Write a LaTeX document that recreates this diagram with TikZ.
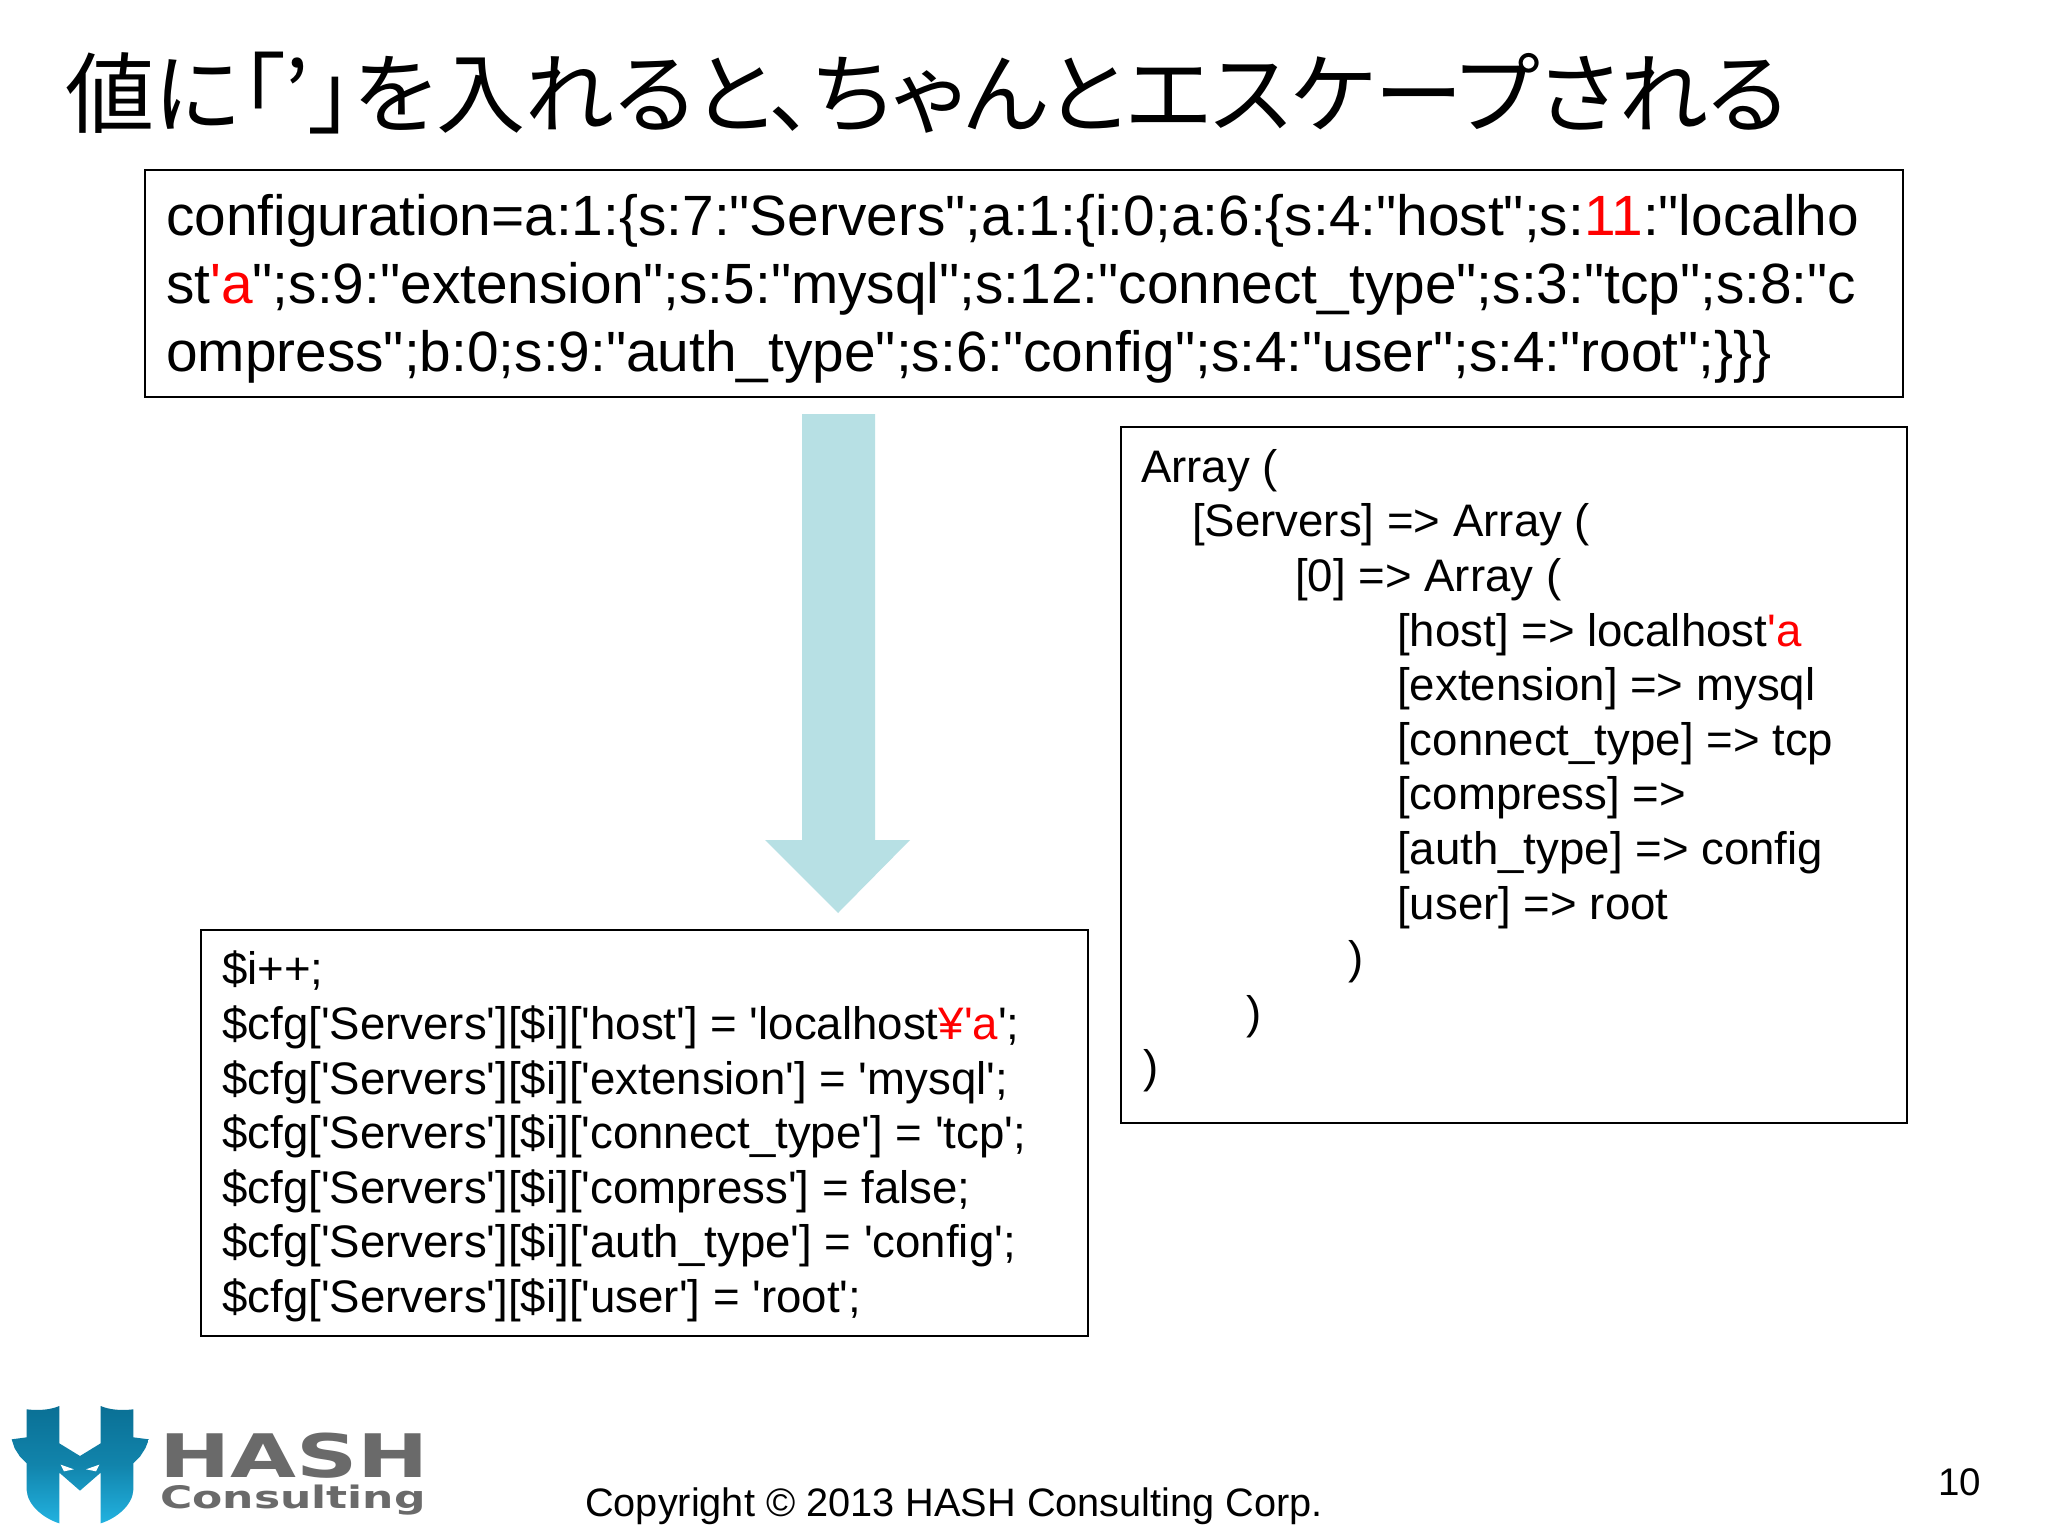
\documentclass[tikz,border=0pt]{standalone}
\usepackage{fontspec}
\newfontfamily\arfont{Liberation Sans}
\newfontfamily\jpfont[RawFeature=+palt]{Noto Sans CJK JP}
\newfontfamily\logofont{DejaVu Sans Bold}
\definecolor{arrowc}{HTML}{B7E0E4}
\definecolor{logog}{HTML}{6A6A6A}
\definecolor{logot}{HTML}{0A7095}
\definecolor{logob}{HTML}{22B2E0}
\newcommand{\rd}[1]{\textcolor{red}{#1}}
\tikzset{
  boxed/.style={draw=black,line width=2pt,fill=white},
  toptext/.style={anchor=north west,inner sep=0pt,align=left,font=\arfont\fontsize{56.8}{68}\selectfont},
  bodytext/.style={anchor=north west,inner sep=0pt,align=left,font=\arfont\fontsize{45.6}{54.6}\selectfont},
}
\begin{document}
\begin{tikzpicture}[x=1pt,y=-1pt]
\useasboundingbox (0,0) rectangle (2048,1536);
\fill[white] (0,0) rectangle (2048,1536);
\node[anchor=base west,inner sep=0pt,font=\jpfont\fontsize{88}{88}\selectfont] (title) at (65,127) {\scalebox{1.012}[1]{値に「’」を入れると、ちゃんとエスケープされる}};
\draw[boxed] (145,170) rectangle (1903,397);
\node[toptext] (topt) at (166,194) {configuration=a:1:\{s:7:"Servers";a:1:\{i:0;a:6:\{s:4:"host";s:\rd{11}:"localho\\
st\rd{'a}";s:9:"extension";s:5:"mysql";s:12:"connect\_type";s:3:"tcp";s:8:"c\\
ompress";b:0;s:9:"auth\_type";s:6:"config";s:4:"user";s:4:"root";\}\}\}};
\fill[arrowc] (802,414) -- (875,414) -- (875,840) -- (910,840) -- (838,913) -- (765,840) -- (802,840) -- cycle;
\draw[boxed] (1121,427) rectangle (1907,1123);
\node[bodytext] (rightt) at (1141,449) {Array (\\
\hspace*{51pt}{[}Servers] => Array (\\
\hspace*{154pt}{[}0] => Array (\\
\hspace*{256pt}{[}host] => localhost\rd{'a}\\
\hspace*{256pt}{[}extension] => mysql\\
\hspace*{256pt}{[}connect\_type] => tcp\\
\hspace*{256pt}{[}compress] =>\\
\hspace*{256pt}{[}auth\_type] => config\\
\hspace*{256pt}{[}user] => root\\
\hspace*{207pt})\\
\hspace*{105pt})\\
\hspace*{2pt})};
\draw[boxed] (201,930) rectangle (1088,1336);
\node[bodytext] (bott) at (222,951) {\$i++;\\
\$cfg{[}'Servers'][\$i]['host'] = 'localhost\rd{¥'a}';\\
\$cfg{[}'Servers'][\$i]['extension'] = 'mysql';\\
\$cfg{[}'Servers'][\$i]['connect\_type'] = 'tcp';\\
\$cfg{[}'Servers'][\$i]['compress'] = false;\\
\$cfg{[}'Servers'][\$i]['auth\_type'] = 'config';\\
\$cfg{[}'Servers'][\$i]['user'] = 'root';};
\node[anchor=base west,inner sep=0pt,font=\arfont\fontsize{39.7}{48}\selectfont] (copy) at (585,1516) {Copyright © 2013 HASH Consulting Corp.};
\node[anchor=base east,inner sep=0pt,font=\arfont\fontsize{38.5}{48}\selectfont] (pagenum) at (1981,1495) {10};
% logo
\begin{scope}[shift={(0,1380)},x=0.3333pt,y=-0.3333pt]
\shade[top color=logot,bottom color=logob,middle color=logot!70!logob]
 (80,88) .. controls (115,92) and (150,90) .. (178,78) -- (178,190) -- (240,228) -- (302,190) -- (302,78)
 .. controls (330,90) and (365,92) .. (400,88) -- (400,172) -- (447,178) -- (436,205) -- (420,230) -- (400,250) -- (400,330)
 .. controls (398,375) and (350,415) .. (302,430) -- (302,278) -- (240,332) -- (178,278) -- (178,430)
 .. controls (130,415) and (82,375) .. (80,330) -- (80,250) -- (60,230) -- (44,205) -- (35,178) -- (80,172) -- cycle;
\fill[white] (182,254) -- (222,268) -- (192,274) -- cycle;
\fill[white] (298,254) -- (258,268) -- (288,274) -- cycle;
\end{scope}
\node[anchor=base west,inner sep=0pt,text=logog,font=\logofont\fontsize{60}{60}\selectfont] (hash) at (159,1477) {\scalebox{1.42}[1]{HASH}};
\node[anchor=base west,inner sep=0pt,text=logog,font=\logofont\fontsize{31}{32}\selectfont] (cons) at (160,1508) {\scalebox{1.42}[1]{Consulting}};
\end{tikzpicture}
\end{document}
